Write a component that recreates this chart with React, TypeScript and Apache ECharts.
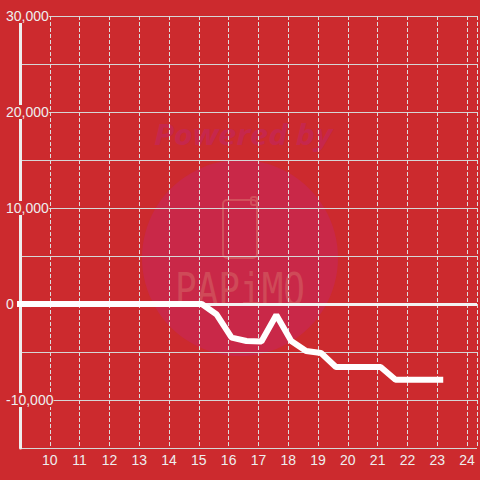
import React, { useEffect, useRef } from "react";
import * as echarts from "echarts";

const xValues = [9, 15.1, 15.6, 16.1, 16.6, 17.1, 17.6, 18.1, 18.6, 19.1, 19.6, 20.1, 20.6, 21.1, 21.6, 22.1, 22.6, 23.1];
const yValues = [0, 0, -1100, -3500, -3850, -3900, -1150, -3850, -4900, -5100, -6560, -6560, -6560, -6560, -7900, -7900, -7900, -7900];
const yTickLabels = [-10000, 0, 10000, 20000, 30000];
const xTickLabels = [10, 11, 12, 13, 14, 15, 16, 17, 18, 19, 20, 21, 22, 23, 24];

const BG = "#cc2a2e";

export default function App() {
  const ref = useRef<HTMLDivElement>(null);
  useEffect(() => {
    if (!ref.current) return;
    document.body.style.margin = "0";
    const chart = echarts.init(ref.current, undefined, { renderer: "svg" });
    const font = "'Liberation Sans', Arial, sans-serif";
    chart.setOption({
      animation: false,
      backgroundColor: BG,
      textStyle: { fontFamily: font },
      grid: { left: 20, right: 0, top: 16, bottom: 32, containLabel: false },
      graphic: [
        {
          type: "circle",
          z: -10,
          shape: { cx: 240, cy: 258, r: 98 },
          style: { fill: "#c92848" },
          silent: true,
        },
        {
          type: "text",
          z: -10,
          x: 243,
          y: 134,
          scaleX: 1.12,
          style: {
            text: "Powered by",
            fill: "#c6274c",
            font: "italic bold 29px 'Open Sans', 'Liberation Sans', sans-serif",
            align: "center",
            verticalAlign: "middle",
          },
          silent: true,
        },
        {
          type: "rect",
          z: -9,
          shape: { x: 223, y: 200, width: 34, height: 58, r: 4 },
          style: { fill: "none", stroke: "#d2505c", lineWidth: 2 },
          silent: true,
        },
        {
          type: "rect",
          z: -9,
          shape: { x: 251, y: 197, width: 6, height: 8, r: 2 },
          style: { fill: "none", stroke: "#d2505c", lineWidth: 2 },
          silent: true,
        },
        {
          type: "text",
          z: -9,
          x: 240,
          y: 290,
          scaleY: 1.25,
          style: {
            text: "PAPiMO",
            fill: "#cf4a58",
            font: "normal 36px 'DejaVu Sans Mono', monospace",
            align: "center",
            verticalAlign: "middle",
          },
          silent: true,
        },
      ],
      xAxis: {
        type: "value",
        min: 9,
        max: 9 + 460 / 30,
        interval: 1,
        axisLine: { show: false },
        axisTick: { show: false },
        axisLabel: {
          color: "#eeeeee",
          fontSize: 14,
          fontFamily: font,
          margin: 5,
          formatter: (v: number) => (xTickLabels.indexOf(v) >= 0 ? String(v) : ""),
        },
        splitLine: {
          show: true,
          lineStyle: { color: "#dddddd", width: 1, type: [4, 2] },
        },
      },
      yAxis: {
        type: "value",
        min: -15000,
        max: 30000,
        interval: 5000,
        axisLine: { show: true, lineStyle: { color: "#eeeeee", width: 3 } },
        axisTick: { show: false },
        axisLabel: {
          color: "#eeeeee",
          fontSize: 14,
          fontFamily: font,
          align: "left",
          margin: 14,
          lineHeight: 14,
          backgroundColor: BG,
          formatter: (v: number) => (yTickLabels.indexOf(v) >= 0 ? v.toLocaleString("en-US") : ""),
        },
        splitLine: {
          show: true,
          lineStyle: { color: "#d6d6d6", width: 1, type: "solid" },
        },
      },
      series: [
        {
          type: "line",
          data: xValues.map((x, i) => [x, yValues[i]]),
          showSymbol: false,
          symbol: "none",
          lineStyle: { color: "#ffffff", width: 6, cap: "square" },
          z: 3,
          markLine: {
            silent: true,
            symbol: "none",
            label: { show: false },
            lineStyle: { color: "#f2f2f2", width: 3, type: "solid" },
            data: [{ yAxis: 0 }],
            z: 2,
          },
        },
      ],
    });
    return () => chart.dispose();
  }, []);
  return <div ref={ref} style={{ width: 480, height: 480, position: "absolute", left: 0, top: 0 }} />;
}
